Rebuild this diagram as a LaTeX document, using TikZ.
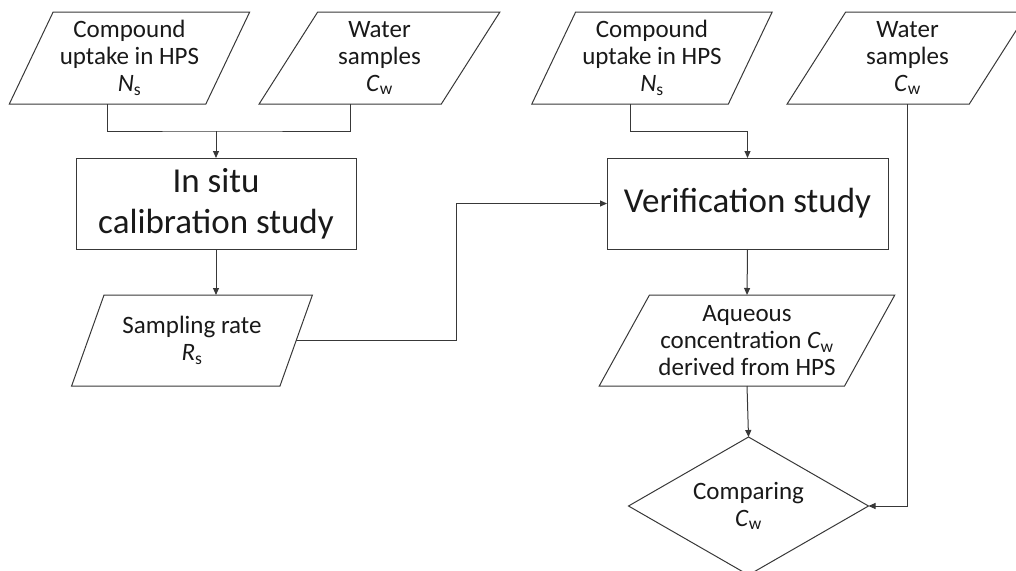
\documentclass[tikz,border=0pt]{standalone}
\usepackage{fontspec}
\setmainfont{Carlito}
\usetikzlibrary{arrows.meta,shapes.geometric}
\tikzset{ln/.append style={draw=black!78, line width=1pt}}
\tikzset{ar/.append style={ln, -{Triangle[length=7pt,width=6pt]}}}
\tikzset{io/.append style={ln, trapezium, trapezium left angle=62, trapezium right angle=118, trapezium stretches=true, minimum width=241pt, minimum height=92pt, inner sep=0pt, outer sep=0pt, align=center, text=black!90, font=\fontsize{25}{27}\selectfont}}
\tikzset{pr/.append style={ln, rectangle, minimum width=280pt, minimum height=91pt, inner sep=0pt, outer sep=0pt, align=center, text=black!90, font=\fontsize{35}{41}\selectfont}}
\tikzset{dc/.append style={ln, diamond, aspect=1.74, minimum width=240pt, minimum height=138pt, inner sep=0pt, outer sep=0pt, align=center, text=black!90, font=\fontsize{25}{27}\selectfont}}

\begin{document}
\begin{tikzpicture}[x=1pt,y=-1pt]
                \clip (0,0) rectangle (1016,570);
                % inputs and steps
                \node[io] (cu1) at (129.5,58) {Compound\\uptake in HPS\\\textit{N}\textsubscript{s}};
                \node[io] (ws1) at (379.5,58) {Water\\samples\\\textit{C}\textsubscript{w}};
                \node[pr] (cal) at (216,203.5) {In situ\\calibration study};
                \node[io,minimum height=91pt] (sr) at (192,340.5) {Sampling rate\\\textit{R}\textsubscript{s}};
                \node[io] (cu2) at (652,58) {Compound\\uptake in HPS\\\textit{N}\textsubscript{s}};
                \node[io] (ws2) at (907.5,58) {Water\\samples\\\textit{C}\textsubscript{w}};
                \node[pr,minimum width=281pt] (ver) at (747.5,203.5) {Verification study};
                \node[io,minimum width=296pt,minimum height=91pt,trapezium left angle=57,trapezium right angle=123] (aq) at (747,340.5) {Aqueous\\concentration \textit{C}\textsubscript{w}\\derived from HPS};
                \node[dc] (cmp) at (748.5,506) {Comparing\\\textit{C}\textsubscript{w}};
                % connectors
                \coordinate (j1) at ([yshift=27pt]cal.north);
                \coordinate (j2) at ([yshift=27pt]ver.north);
                \draw[ln] (cu1.bottom side) |- (j1) -| (ws1.bottom side);
                \draw[ar] (j1) -- (cal.north);
                \draw[ar] (cal.south) -- (cal.south |- sr.top side);
                \draw[ar] (sr.right side) -- ++(160,0) |- (ver.west);
                \draw[ln] (cu2.bottom side) |- (j2);
                \draw[ar] (j2) -- (ver.north);
                \draw[ar] (ver.south) -- (aq.north);
                \draw[ar] (aq.south) -- (cmp.north);
                \draw[ar] (ws2.south) |- (cmp.east);
            \end{tikzpicture}
\end{document}
